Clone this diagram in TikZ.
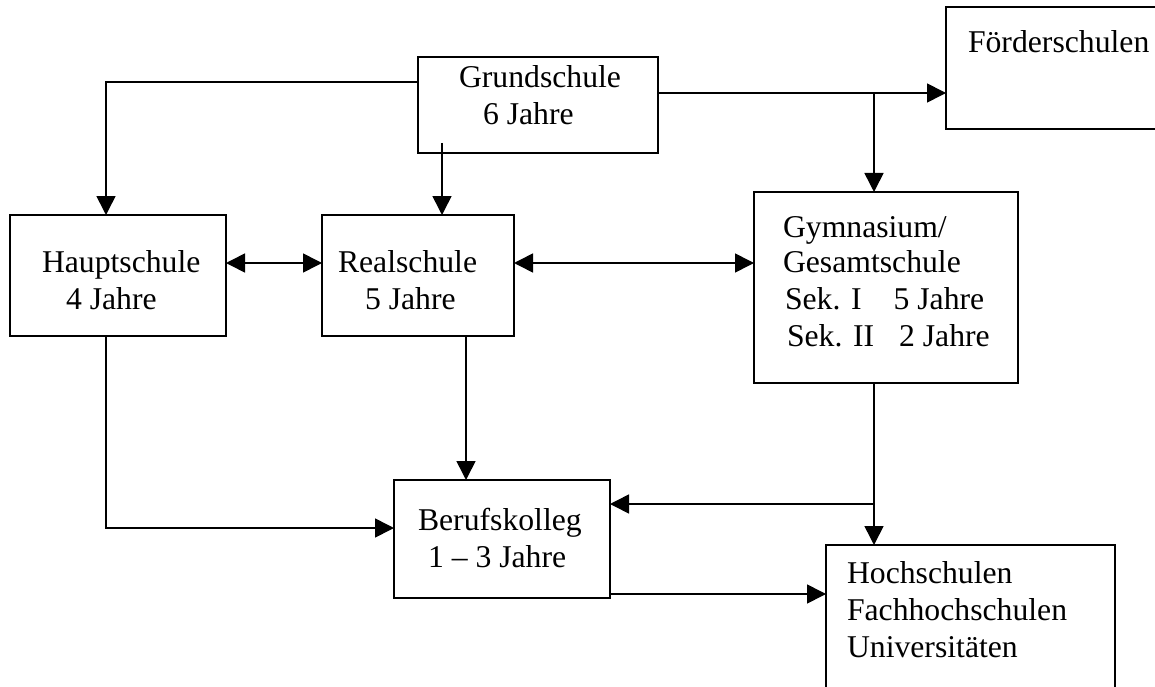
\documentclass[tikz,border=0pt]{standalone}
\usepackage{fontspec}
\setmainfont{Liberation Serif}
\usetikzlibrary{arrows.meta}
\begin{document}
\begin{tikzpicture}[x=1pt,y=-1pt,
  box/.style={draw, line width=1.6pt, rectangle, inner sep=0pt, outer sep=0pt, anchor=north west},
  txt/.style={inner sep=0pt, outer sep=0pt, anchor=base west, font=\fontsize{31.7}{37}\selectfont},
  conn/.style={line width=1.6pt},
  tip/.tip={Triangle[length=19pt,width=19pt]},
  arr/.style={conn, -tip},
  darr/.style={conn, tip-tip}]
\useasboundingbox (0,0) rectangle (1155,687);
\fill[white] (0,0) rectangle (1155,687);
\clip (0,0) rectangle (1155,687);

% boxes
\node[box, minimum width=240pt, minimum height=96pt]  (grund)   at (418,57)  {};
\node[box, minimum width=260pt, minimum height=122pt] (foerder) at (946,7)   {};
\node[box, minimum width=216pt, minimum height=121pt] (haupt)   at (10,215)  {};
\node[box, minimum width=192pt, minimum height=121pt] (real)    at (322,215) {};
\node[box, minimum width=264pt, minimum height=191pt] (gym)     at (754,192) {};
\node[box, minimum width=216pt, minimum height=118pt] (beruf)   at (394,480) {};
\node[box, minimum width=289pt, minimum height=200pt] (hoch)    at (826,545) {};

% texts
\node[txt] (tg1) at (459,88)  {Grundschule};
\node[txt] (tg2) at (483,125) {6 Jahre};
\node[txt] (tf1) at (968,53)  {Förderschulen};
\node[txt] (th1) at (42,272)  {Hauptschule};
\node[txt] (th2) at (66,309)  {4 Jahre};
\node[txt] (tr1) at (338,272) {Realschule};
\node[txt] (tr2) at (365,309) {5 Jahre};
\node[txt] (ty1) at (783,237) {Gymnasium/};
\node[txt] (ty2) at (783,272) {Gesamtschule};
\node[txt] (ty3) at (785,309) {Sek. I\hspace{32pt}5 Jahre};
\node[txt] (ty4) at (787,346) {Sek. II\hspace{25pt}2 Jahre};
\node[txt] (tb1) at (418,530) {Berufskolleg};
\node[txt] (tb2) at (428,567) {1 – 3 Jahre};
\node[txt] (tu1) at (847,583) {Hochschulen};
\node[txt] (tu2) at (847,620) {Fachhochschulen};
\node[txt] (tu3) at (847,657) {Universitäten};

% junctions
\coordinate (jL) at (106,82);
\coordinate (jR) at (874,93);
\coordinate (jG) at (874,504);
\coordinate (jH) at (106,528);
\coordinate (gs) at (442,143);
\coordinate (ym) at (0,263);
\coordinate (rb) at (466,0);
\coordinate (bh) at (0,594);

% connectors
\draw[conn, line width=2.6pt] (jR -| grund.east) -- (jR);
\draw[arr] (jR) -- (jR -| foerder.west);
\draw[arr] (jR) -- (jR |- gym.north);
\draw[arr] (jL -| grund.west) -- (jL) -- (jL |- haupt.north);
\draw[arr] (gs) -- (gs |- real.north);
\draw[darr] (ym -| haupt.east) -- (ym -| real.west);
\draw[darr] (ym -| real.east) -- (ym -| gym.west);
\draw[arr] (jH |- haupt.south) -- (jH) -- (jH -| beruf.west);
\draw[arr] (rb |- real.south) -- (rb |- beruf.north);
\draw[arr] (jG |- gym.south) -- (jG |- hoch.north);
\draw[arr] (jG) -- (jG -| beruf.east);
\draw[arr] (bh -| beruf.east) -- (bh -| hoch.west);
\end{tikzpicture}
\end{document}
